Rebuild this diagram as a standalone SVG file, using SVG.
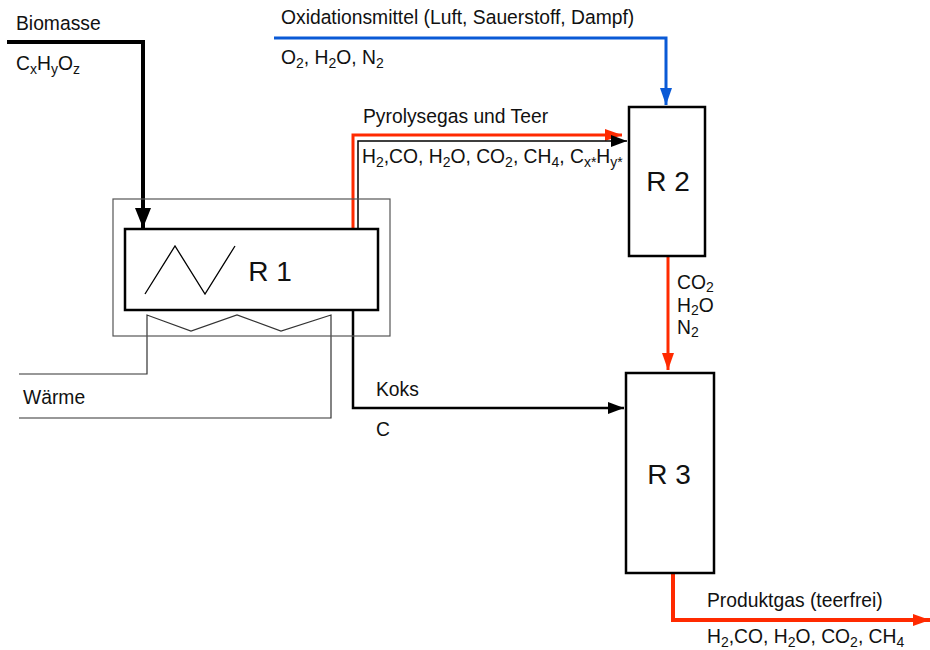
<svg xmlns="http://www.w3.org/2000/svg" width="930" height="650" viewBox="0 0 930 650">
<defs>
<style>
text{font-family:"Liberation Sans",Arial,Helvetica,sans-serif;font-size:19.3px;fill:#111}
.big{font-size:28px}
.sub{font-size:14px}
.box{fill:#fff;stroke:#000;stroke-width:2.5}
.thin{fill:none;stroke:#333;stroke-width:1.2}
</style>
<marker id="aK" markerUnits="userSpaceOnUse" markerWidth="22" markerHeight="18" refX="20" refY="8" orient="auto"><path d="M0,0 L20,8 L0,16 Z" fill="#000"/></marker>
<marker id="aKs" markerUnits="userSpaceOnUse" markerWidth="18" markerHeight="14" refX="16" refY="6" orient="auto"><path d="M0,0 L16,6 L0,12 Z" fill="#000"/></marker>
<marker id="aR" markerUnits="userSpaceOnUse" markerWidth="18" markerHeight="14" refX="17" refY="6" orient="auto"><path d="M0,0 L17,6 L0,12 Z" fill="#ff2a00"/></marker>
<marker id="aB" markerUnits="userSpaceOnUse" markerWidth="18" markerHeight="14" refX="17" refY="6" orient="auto"><path d="M0,0 L17,6 L0,12 Z" fill="#0a5ad6"/></marker>
</defs>

<g id="connectors">
<path d="M7,42 H143 V228" fill="none" stroke="#000" stroke-width="4" marker-end="url(#aK)"/>
<path d="M274,38 H666 V105" fill="none" stroke="#0a5ad6" stroke-width="3" marker-end="url(#aB)"/>
<path d="M353,229 V135 H622" fill="none" stroke="#ff2a00" stroke-width="3" marker-end="url(#aR)"/>
<path d="M358,229 V141 H627" fill="none" stroke="#000" stroke-width="1.5" marker-end="url(#aKs)"/>
<path d="M353,310 V408 H624" fill="none" stroke="#000" stroke-width="2.5" marker-end="url(#aKs)"/>
<path d="M668,256 V370" fill="none" stroke="#ff2a00" stroke-width="3" marker-end="url(#aR)"/>
<path d="M673,573 V620 H930" fill="none" stroke="#ff2a00" stroke-width="4" marker-end="url(#aR)"/>
<path d="M19,374 H147 V315 L191,331 L237,315 L281,331 L331,315 V418 H19" class="thin"/>
</g>

<g id="R1">
<rect x="113" y="199" width="277" height="137" fill="none" stroke="#555" stroke-width="1.2"/>
<rect x="125" y="229" width="253" height="81" class="box"/>
<path d="M145,294 L175,246 L205,294 L235,246" fill="none" stroke="#000" stroke-width="1.3"/>
<text x="270" y="281" class="big" text-anchor="middle">R 1</text>
</g>

<g id="R2">
<rect x="629" y="107" width="76" height="149" class="box"/>
<text x="668" y="191" class="big" text-anchor="middle">R 2</text>
</g>

<g id="R3">
<rect x="626" y="373" width="88" height="200" class="box"/>
<text x="669" y="484" class="big" text-anchor="middle">R 3</text>
</g>

<g id="labels">
<text x="16" y="30">Biomasse</text>
<text x="16" y="70">C<tspan class="sub" dy="4">x</tspan><tspan dy="-4">H</tspan><tspan class="sub" dy="4">y</tspan><tspan dy="-4">O</tspan><tspan class="sub" dy="4">z</tspan></text>
<text x="281" y="24">Oxidationsmittel (Luft, Sauerstoff, Dampf)</text>
<text x="281" y="64">O<tspan class="sub" dy="4">2</tspan><tspan dy="-4">, H</tspan><tspan class="sub" dy="4">2</tspan><tspan dy="-4">O, N</tspan><tspan class="sub" dy="4">2</tspan></text>
<text x="363" y="123">Pyrolysegas und Teer</text>
<text x="362" y="163">H<tspan class="sub" dy="4">2</tspan><tspan dy="-4">,CO, H</tspan><tspan class="sub" dy="4">2</tspan><tspan dy="-4">O, CO</tspan><tspan class="sub" dy="4">2</tspan><tspan dy="-4">, CH</tspan><tspan class="sub" dy="4">4</tspan><tspan dy="-4">, C</tspan><tspan class="sub" dy="4">x*</tspan><tspan dy="-4">H</tspan><tspan class="sub" dy="4">y*</tspan></text>
<text x="677" y="289">CO<tspan class="sub" dy="3">2</tspan></text>
<text x="677" y="312">H<tspan class="sub" dy="3">2</tspan><tspan dy="-3">O</tspan></text>
<text x="677" y="334">N<tspan class="sub" dy="3">2</tspan></text>
<text x="376" y="396">Koks</text>
<text x="376" y="436">C</text>
<text x="23" y="404">Wärme</text>
<text x="707" y="607">Produktgas (teerfrei)</text>
<text x="707" y="643">H<tspan class="sub" dy="4">2</tspan><tspan dy="-4">,CO, H</tspan><tspan class="sub" dy="4">2</tspan><tspan dy="-4">O, CO</tspan><tspan class="sub" dy="4">2</tspan><tspan dy="-4">, CH</tspan><tspan class="sub" dy="4">4</tspan></text>
</g>
</svg>
